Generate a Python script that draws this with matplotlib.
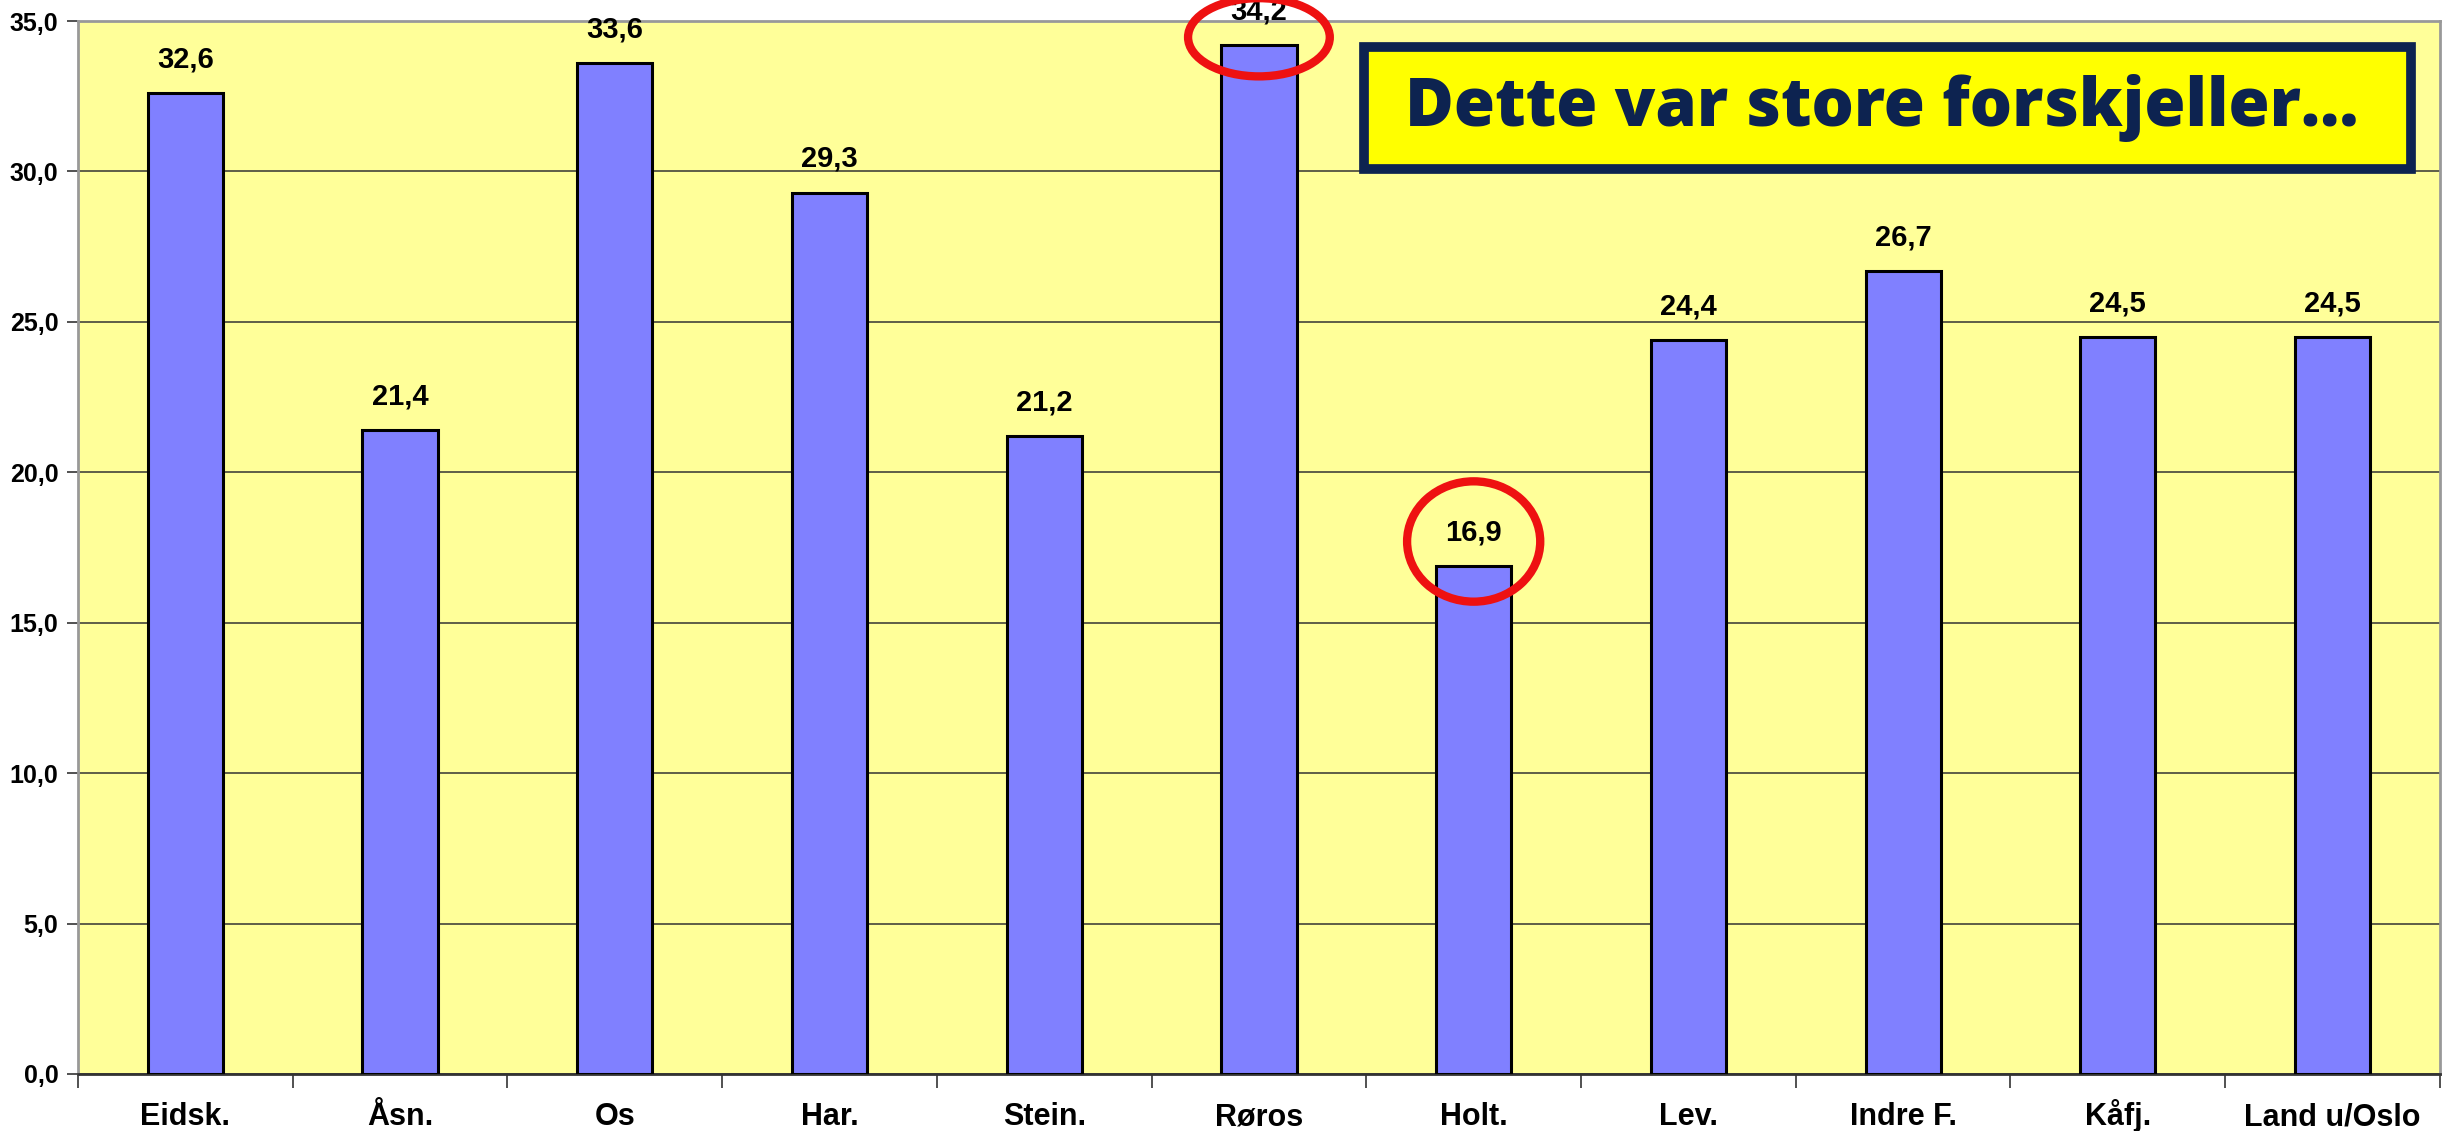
import matplotlib
matplotlib.use("Agg")
import matplotlib.pyplot as plt
from matplotlib.patches import Ellipse, Rectangle
from matplotlib import font_manager
import numpy as np

categories = ["Eidsk.", "Åsn.", "Os", "Har.", "Stein.", "Røros", "Holt.",
              "Lev.", "Indre F.", "Kåfj.", "Land u/Oslo"]
values = [32.6, 21.4, 33.6, 29.3, 21.2, 34.2, 16.9, 24.4, 26.7, 24.5, 24.5]
yticks = [0, 5, 10, 15, 20, 25, 30, 35]
highlight = ["Røros", "Holt."]
callout = "Dette var store forskjeller…"

# pick a narrow font if there is one
names = {f.name for f in font_manager.fontManager.ttflist}
narrow = "Liberation Sans Narrow" if "Liberation Sans Narrow" in names else "Liberation Sans"

fig = plt.figure(figsize=(24.5, 11.31), dpi=100)
ax = fig.add_axes([0.0318, 0.0504, 0.9641, 0.931])
ax.set_facecolor("#FFFF99")

x = np.arange(len(categories))
ax.bar(x, values, width=0.35, color="#8080FF", edgecolor="black", linewidth=2.2, zorder=3)

for xi, v in zip(x, values):
    ax.text(xi, v + 0.65, f"{v:.1f}".replace(".", ","), ha="center", va="bottom",
            fontsize=21, fontweight="bold", family=narrow, zorder=4, clip_on=False)

ax.set_xlim(-0.5, len(categories) - 0.5)
ax.set_ylim(0, 35)
ax.set_yticks(yticks)
ax.set_yticklabels([f"{t:.1f}".replace(".", ",") for t in yticks],
                   fontsize=18, fontweight="bold", family=narrow)
ax.yaxis.grid(True, color="#5e5e48", linewidth=1.4, zorder=1)
ax.set_axisbelow(True)

ax.set_xticks(x)
ax.set_xticklabels(categories, fontsize=22, fontweight="bold", family=narrow)
ax.tick_params(axis="x", which="major", length=0, pad=37)
for lab in ax.get_xticklabels():
    lab.set_verticalalignment("baseline")
ax.set_xticks(np.arange(-0.5, len(categories)), minor=True)
ax.tick_params(axis="x", which="minor", length=10, width=1.2, color="#333333")
ax.tick_params(axis="y", length=8, width=1.2, color="#333333", pad=6)

for s in ["top", "right", "left"]:
    ax.spines[s].set_color("#999999")
    ax.spines[s].set_linewidth(2)
ax.spines["bottom"].set_color("#333333")
ax.spines["bottom"].set_linewidth(2)

# red rings round the extremes
rings = {"Røros": (0.66, 2.6, 0.26), "Holt.": (0.62, 4.0, 0.8)}
for name in highlight:
    i = categories.index(name)
    w, h, dy = rings[name]
    ax.add_patch(Ellipse((i, values[i] + dy), w, h, fill=False, edgecolor="#EE1111",
                         linewidth=6, zorder=5, clip_on=False))

# callout box
fig.patches.append(Rectangle((0.5567, 0.8506), 0.4273, 0.1079, transform=fig.transFigure,
                             facecolor="#FFFF00", edgecolor="#0D2350", linewidth=7,
                             zorder=6))
fig.text(0.7680, 0.9045, callout, ha="center", va="center", fontsize=48,
         fontweight="heavy", family=["Open Sans", "DejaVu Sans"], color="#0D2350",
         zorder=7)

fig.savefig("out.png", dpi=100)
